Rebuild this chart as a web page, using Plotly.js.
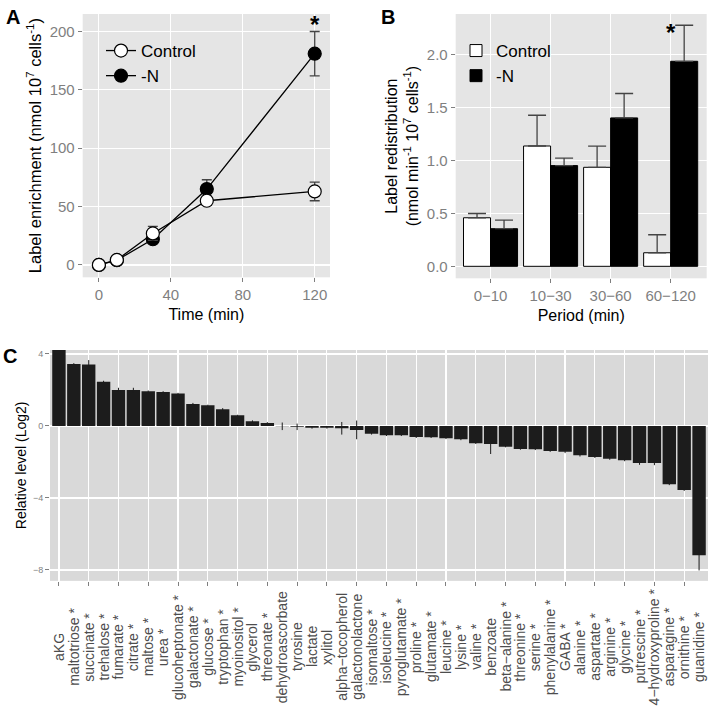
<!DOCTYPE html>
<html><head><meta charset="utf-8">
<script src="https://cdn.plot.ly/plotly-3.0.1.min.js"></script>
<style>html,body{margin:0;padding:0;background:#fff}#chart{width:709px;height:709px}</style>
</head><body><div id="chart"></div>
<script>
// Panel A
const timeMin = [0, 10, 30, 60, 120];
const ctrlEnrich = [0, 4.3, 27, 55, 63];
const ctrlEnrichErr = [1, 1.5, 6, 4, 8];
const nEnrich = [0, 4, 22, 65, 181];
const nEnrichErr = [1, 1.5, 3, 8, 19];
// Panel B
const periods = ['0\u221210', '10\u221230', '30\u221260', '60\u2212120'];
const ctrlRedis = [0.458, 1.135, 0.934, 0.128];
const ctrlRedisErr = [0.04, 0.29, 0.2, 0.17];
const nRedis = [0.355, 0.95, 1.40, 1.934];
const nRedisErr = [0.08, 0.07, 0.23, 0.34];
// Panel C
const metabolites = ['aKG','maltotriose *','succinate *','trehalose *','fumarate *','citrate *','maltose *','urea *',
 'glucoheptonate *','galactonate *','glucose *','tryptophan *','myoinositol *','glycerol','threonate *',
 'dehydroascorbate','tyrosine','lactate','xylitol','alpha\u2212tocopherol','galactonolactone','isomaltose *',
 'isoleucine *','pyroglutamate *','proline *','glutamate *','leucine *','lysine *','valine *','benzoate',
 'beta\u2212alanine *','threonine *','serine *','phenylalanine *','GABA *','alanine *','aspartate *','arginine *',
 'glycine *','putrescine *','4\u2212hydroxyproline *','asparagine *','ornithine *','guanidine *'];
const relLevel = [4.4, 3.44, 3.41, 2.46, 2.0, 2.0, 1.93, 1.89, 1.80, 1.22, 1.15, 0.93, 0.59, 0.26, 0.17,
 -0.02, -0.05, -0.1, -0.1, -0.13, -0.22, -0.43, -0.52, -0.52, -0.61, -0.63, -0.69, -0.74, -0.96, -1.0,
 -1.15, -1.28, -1.3, -1.39, -1.43, -1.63, -1.72, -1.83, -1.91, -2.06, -2.06, -3.24, -3.56, -7.18];
const relErr = [0.05, 0.05, 0.25, 0.05, 0.12, 0.12, 0.04, 0.04, 0.04, 0.06, 0.03, 0.06, 0.03, 0.05, 0.04,
 0.21, 0.18, 0.05, 0.05, 0.35, 0.52, 0.05, 0.04, 0.04, 0.06, 0.04, 0.04, 0.05, 0.04, 0.56,
 0.04, 0.04, 0.04, 0.05, 0.08, 0.07, 0.06, 0.05, 0.05, 0.1, 0.12, 0.05, 0.05, 0.85];

const FONT = 'Liberation Sans, Arial, Helvetica, sans-serif';
const TICKC = '#7f7f7f';
const zeros = a => a.map(() => 0);

const traces = [
  {x: timeMin, y: nEnrich, name: '-N', type: 'scatter', mode: 'lines+markers', xaxis: 'x', yaxis: 'y', legend: 'legend',
   line: {color: '#000', width: 1.3}, marker: {size: 13, color: '#000', line: {color: '#000', width: 1.2}},
   error_y: {type: 'data', array: nEnrichErr, color: '#444', thickness: 1.3, width: 5}},
  {x: timeMin, y: ctrlEnrich, name: 'Control', type: 'scatter', mode: 'lines+markers', xaxis: 'x', yaxis: 'y', legend: 'legend',
   line: {color: '#000', width: 1.3}, marker: {size: 13, color: '#fff', line: {color: '#000', width: 1.2}},
   error_y: {type: 'data', array: ctrlEnrichErr, color: '#444', thickness: 1.3, width: 5}},
  {x: periods, y: ctrlRedis, name: 'Control', type: 'bar', xaxis: 'x2', yaxis: 'y2', legend: 'legend2',
   marker: {color: '#fff', line: {color: '#000', width: 1}},
   error_y: {type: 'data', symmetric: false, array: ctrlRedisErr, arrayminus: zeros(ctrlRedisErr), color: '#444', thickness: 1.3, width: 9}},
  {x: periods, y: nRedis, name: '-N', type: 'bar', xaxis: 'x2', yaxis: 'y2', legend: 'legend2',
   marker: {color: '#000', line: {color: '#000', width: 1}},
   error_y: {type: 'data', symmetric: false, array: nRedisErr, arrayminus: zeros(nRedisErr), color: '#444', thickness: 1.3, width: 9}},
  {x: metabolites, y: relLevel, type: 'bar', xaxis: 'x3', yaxis: 'y3', showlegend: false,
   marker: {color: '#1c1c1c'}, width: 0.9,
   error_y: {type: 'data', array: relErr, color: '#1c1c1c', thickness: 1, width: 0}}
];

const axBase = {showgrid: true, gridcolor: '#fff', gridwidth: 1.2, zeroline: false, showline: false,
  ticks: 'outside', ticklen: 4, tickcolor: TICKC, tickwidth: 1, automargin: false,
  tickfont: {family: FONT, size: 15, color: TICKC}};

const annotations = [
  {text: '<b>A</b>', xref: 'paper', yref: 'paper', x: 4/709, y: 1 - 4/709, xanchor: 'left', yanchor: 'top', showarrow: false, font: {family: FONT, size: 20, color: '#000'}},
  {text: '<b>B</b>', xref: 'paper', yref: 'paper', x: 379/709, y: 1 - 4/709, xanchor: 'left', yanchor: 'top', showarrow: false, font: {family: FONT, size: 20, color: '#000'}},
  {text: '<b>C</b>', xref: 'paper', yref: 'paper', x: 1/709, y: 1 - 343/709, xanchor: 'left', yanchor: 'top', showarrow: false, font: {family: FONT, size: 20, color: '#000'}},
  {text: '<b>*</b>', xref: 'x', yref: 'y', x: 120, y: 206, showarrow: false, font: {family: FONT, size: 24, color: '#000'}},
  {text: '<b>*</b>', xref: 'x2', yref: 'y2', x: '60\u2212120', y: 2.21, showarrow: false, font: {family: FONT, size: 24, color: '#000'}}
];
metabolites.forEach(m => annotations.push({text: m, xref: 'x3', yref: 'paper', x: m, y: 1 - 647/709,
  textangle: -90, xanchor: 'center', yanchor: 'middle', showarrow: false,
  font: {family: FONT, size: 14, color: '#4d4d4d'}}));

const layout = {
  width: 709, height: 709, margin: {l: 0, r: 0, t: 0, b: 0},
  paper_bgcolor: '#fff', plot_bgcolor: '#e5e5e5',
  font: {family: FONT, color: '#000'},
  bargap: 0.1, bargroupgap: 0, barmode: 'group',
  xaxis: Object.assign({}, axBase, {domain: [82.7/709, 330/709], anchor: 'y', range: [-9, 128.5], tickvals: [0, 40, 80, 120],
    title: {text: 'Time (min)', font: {family: FONT, size: 16, color: '#000'}, standoff: 6}}),
  yaxis: Object.assign({}, axBase, {domain: [1 - 277.3/709, 1 - 14/709], anchor: 'x', range: [-10.6, 215], tickvals: [0, 50, 100, 150, 200],
    title: {text: 'Label enrichment (nmol 10<sup>7</sup> cells<sup>-1</sup>)', font: {family: FONT, size: 16.5, color: '#000'}, standoff: 3}}),
  xaxis2: Object.assign({}, axBase, {domain: [455.7/709, 706.7/709], anchor: 'y2', type: 'category', range: [-0.58, 3.6],
    title: {text: 'Period (min)', font: {family: FONT, size: 16, color: '#000'}, standoff: 6}}),
  yaxis2: Object.assign({}, axBase, {domain: [1 - 278.3/709, 1 - 14/709], anchor: 'x2', range: [-0.113, 2.38], tickvals: [0, 0.5, 1, 1.5, 2], tickformat: '.1f',
    title: {text: 'Label redistribution<br>(nmol min<sup>-1</sup> 10<sup>7</sup> cells<sup>-1</sup>)', font: {family: FONT, size: 16, color: '#000'}, standoff: 4}}),
  xaxis3: Object.assign({}, axBase, {domain: [50/709, 708/709], anchor: 'y3', type: 'category', range: [-0.6, 43.6], showticklabels: false}),
  yaxis3: Object.assign({}, axBase, {domain: [1 - 580.7/709, 1 - 350/709], anchor: 'x3', range: [-8.6, 4.22], tickvals: [-8, -4, 0, 4],
    tickfont: {family: FONT, size: 9, color: TICKC},
    title: {text: 'Relative level (Log2)', font: {family: FONT, size: 14, color: '#000'}, standoff: 3}}),
  shapes: [{type: 'rect', xref: 'x3 domain', yref: 'y3 domain', x0: 0, x1: 1, y0: 0, y1: 1, layer: 'below', line: {width: 0}, fillcolor: '#d9d9d9'}],
  legend: {x: 101/709, y: 1 - 33/709, xanchor: 'left', yanchor: 'top', traceorder: 'reversed', bgcolor: 'rgba(0,0,0,0)',
    font: {family: FONT, size: 17, color: '#000'}, tracegroupgap: 0},
  legend2: {x: 456/709, y: 1 - 33/709, xanchor: 'left', yanchor: 'top', traceorder: 'normal', bgcolor: 'rgba(0,0,0,0)',
    font: {family: FONT, size: 17, color: '#000'}, tracegroupgap: 0},
  annotations: annotations
};

Plotly.newPlot('chart', traces, layout, {displayModeBar: false, staticPlot: true});
</script></body></html>
